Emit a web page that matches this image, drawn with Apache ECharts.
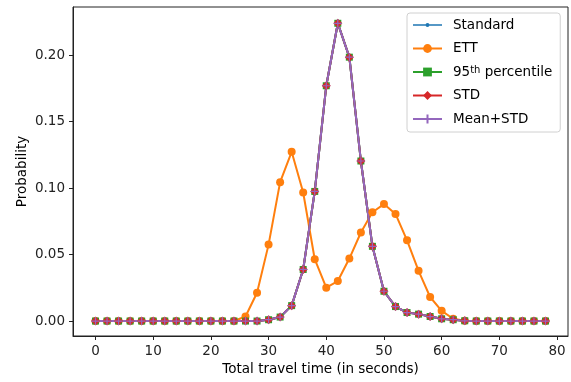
<!DOCTYPE html>
<html>
<head>
<meta charset="utf-8">
<script src="https://cdn.jsdelivr.net/npm/echarts@6/dist/echarts.min.js"></script>
<style>
    html, body { margin: 0; padding: 0; background: #fff; }
    #chart { width: 571px; height: 382px; }
</style>
</head>
<body>
<div id="chart"></div>
<script>
    // travel time bins (seconds)
    const times = [0, 2, 4, 6, 8, 10, 12, 14, 16, 18, 20, 22, 24, 26, 28, 30, 32, 34, 36, 38,
        40, 42, 44, 46, 48, 50, 52, 54, 56, 58, 60, 62, 64, 66, 68, 70, 72, 74, 76, 78];

    const standard = [0, 0, 0, 0, 0, 0, 0, 0, 0, 0, 0, 0, 0, 0, 0, 0.001, 0.003, 0.0116, 0.0388, 0.0975,
        0.177, 0.224, 0.1985, 0.1204, 0.0562, 0.0224, 0.0109, 0.0064, 0.0052, 0.0034, 0.0017, 0.001, 0.0002, 0, 0, 0, 0, 0, 0, 0];
    const ett = [0, 0, 0, 0, 0, 0, 0, 0, 0, 0, 0, 0, 0, 0.0034, 0.0213, 0.0575, 0.1045, 0.1273, 0.0967, 0.0465,
        0.0251, 0.0301, 0.047, 0.0666, 0.0818, 0.088, 0.0806, 0.0607, 0.0378, 0.0181, 0.0077, 0.0017, 0.0003, 0, 0, 0, 0, 0, 0, 0];
    const p95 = [0, 0, 0, 0, 0, 0, 0, 0, 0, 0, 0, 0, 0, 0, 0, 0.001, 0.003, 0.0116, 0.0388, 0.0975,
        0.177, 0.224, 0.1985, 0.1204, 0.0562, 0.0224, 0.0109, 0.0064, 0.0052, 0.0034, 0.0017, 0.001, 0.0002, 0, 0, 0, 0, 0, 0, 0];
    const std = [0, 0, 0, 0, 0, 0, 0, 0, 0, 0, 0, 0, 0, 0, 0, 0.001, 0.003, 0.0116, 0.0388, 0.0975,
        0.177, 0.224, 0.1985, 0.1204, 0.0562, 0.0224, 0.0109, 0.0064, 0.0052, 0.0034, 0.0017, 0.001, 0.0002, 0, 0, 0, 0, 0, 0, 0];
    const meanStd = [0, 0, 0, 0, 0, 0, 0, 0, 0, 0, 0, 0, 0, 0, 0, 0.001, 0.003, 0.0116, 0.0388, 0.0975,
        0.177, 0.224, 0.1985, 0.1204, 0.0562, 0.0224, 0.0109, 0.0064, 0.0052, 0.0034, 0.0017, 0.001, 0.0002, 0, 0, 0, 0, 0, 0, 0];

    const xTicks = [0, 10, 20, 30, 40, 50, 60, 70, 80];
    const yTicks = [0, 0.05, 0.10, 0.15, 0.20];

    const font = 'DejaVu Sans';
    const fs = 13.5;

    function pairs(vals) {
        return times.map((t, i) => [t, vals[i]]);
    }

    function lineSeries(name, vals, color, symbol, size, extra) {
        return Object.assign({
            name: name,
            type: 'line',
            data: pairs(vals),
            symbol: symbol,
            symbolSize: size,
            showSymbol: true,
            lineStyle: { color: color, width: 2 },
            itemStyle: { color: color },
            emphasis: { disabled: true }
        }, extra || {});
    }

    const myChart = echarts.init(document.getElementById('chart'));
    myChart.setOption({
        animation: false,
        textStyle: { fontFamily: font },
        grid: {
            left: 73,
            right: 3,
            top: 7,
            bottom: 46,
            show: true,
            borderColor: '#222',
            borderWidth: 1
        },
        legend: {
            orient: 'vertical',
            left: 407,
            top: 13,
            padding: [5, 8, 6, 5],
            itemWidth: 29,
            itemHeight: 11,
            itemGap: 9.5,
            backgroundColor: 'rgba(255,255,255,0.8)',
            borderColor: '#d0d0d0',
            borderWidth: 1,
            borderRadius: 3,
            data: [
                // small point marker for the "." style
                { name: 'Standard', icon: 'path://M0,1.3L29,1.3L29,2.7L0,2.7Z M12.5,2A2,2 0 1,1 16.5,2A2,2 0 1,1 12.5,2Z' },
                'ETT', '95th percentile', 'STD', 'Mean+STD'
            ],
            formatter: function (name) {
                return name === '95th percentile' ? '95{sup|th} percentile' : name;
            },
            textStyle: {
                fontFamily: font,
                fontSize: fs,
                color: '#000',
                padding: [0, 0, 0, 6],
                rich: {
                    sup: { fontSize: 10, verticalAlign: 'top', fontFamily: font, color: '#000' }
                }
            }
        },
        xAxis: {
            type: 'value',
            min: -3.9,
            max: 81.9,
            name: 'Total travel time (in seconds)',
            nameLocation: 'middle',
            nameGap: 26,
            nameMoveOverlap: false,
            nameTextStyle: { fontFamily: font, fontSize: fs, color: '#000' },
            splitLine: { show: false },
            axisLine: { show: true, onZero: false, lineStyle: { color: '#222', width: 1 } },
            axisTick: { show: true, length: 4, lineStyle: { color: '#222' }, customValues: xTicks },
            axisLabel: { margin: 8, fontSize: fs, color: '#222', fontFamily: font, customValues: xTicks }
        },
        yAxis: {
            type: 'value',
            min: -0.01125,
            max: 0.23625,
            name: 'Probability',
            nameLocation: 'middle',
            nameGap: 44,
            nameMoveOverlap: false,
            nameTextStyle: { fontFamily: font, fontSize: fs, color: '#000' },
            splitLine: { show: false },
            axisLine: { show: true, onZero: false, lineStyle: { color: '#222', width: 1 } },
            axisTick: { show: true, length: 4, lineStyle: { color: '#222' }, customValues: yTicks },
            axisLabel: {
                margin: 8, fontSize: fs, color: '#222', fontFamily: font, customValues: yTicks,
                formatter: function (v) { return v.toFixed(2); }
            }
        },
        series: [
            lineSeries('Standard', standard, '#1f77b4', 'circle', 4),
            lineSeries('ETT', ett, '#ff7f0e', 'circle', 8),
            lineSeries('95th percentile', p95, '#2ca02c', 'rect', 7),
            lineSeries('STD', std, '#d62728', 'diamond', 9),
            lineSeries('Mean+STD', meanStd, '#9467bd', 'path://M5,0L5,10M0,5L10,5', 8, {
                itemStyle: { color: '#9467bd', borderColor: '#9467bd', borderWidth: 1.2 }
            })
        ]
    });
</script>
</body>
</html>
